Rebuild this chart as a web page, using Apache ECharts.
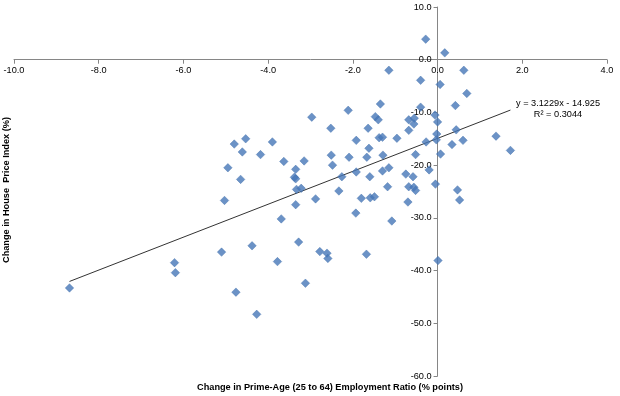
<!DOCTYPE html>
<html><head><meta charset="utf-8">
<script src="https://cdn.jsdelivr.net/npm/echarts@6/dist/echarts.min.js"></script>
<style>html,body{margin:0;padding:0;background:#fff}#c{width:620px;height:396px}</style>
</head><body><div id="c"></div>
<script>
// Change in prime-age employment ratio (% points)
const empChange = [
 -8.69,-6.21,-6.19,-5.10,-4.95,-5.03,-2.97,-2.52,-4.80,-4.53,
 -3.90,-4.61,-4.18,-3.63,-3.15,-2.51,-2.48,-3.35,-4.65,-3.38,
 -3.35,-3.33,-3.22,-2.88,-2.33,-3.35,-3.69,-4.38,-3.28,-2.78,
 -2.61,-2.59,-3.78,-3.12,-4.76,-4.27,-0.28,0.17,-1.15,0.62,
 -0.40,0.06,0.69,0.42,-0.40,-0.06,0.00,0.44,-0.02,-0.27,
 -0.03,0.34,0.60,1.38,1.72,0.07,-0.20,-0.05,0.47,0.52,
 -0.68,-0.55,-0.56,-0.52,-0.75,-0.58,-0.68,-0.56,-0.52,-0.70,
 -2.11,-1.35,-1.47,-1.40,-1.64,-1.92,-1.38,-1.30,-0.96,-0.68,
 -1.62,-1.67,-2.09,-1.29,-1.15,-1.30,-1.92,-2.26,-1.60,-1.18,
 -1.80,-1.59,-1.49,-1.93,-1.08,-1.68,0.01
];
// Change in house price index (%)
const hpiChange = [
 -43.3,-38.5,-40.4,-36.5,-20.5,-26.7,-10.9,-13.0,-16.0,-15.0,
 -15.6,-17.5,-18.0,-19.3,-19.2,-18.1,-20.0,-20.8,-22.7,-22.3,
 -22.6,-24.6,-24.4,-26.4,-24.9,-27.5,-30.2,-35.3,-34.6,-36.4,
 -36.7,-37.7,-38.3,-42.4,-44.1,-48.3,3.9,1.3,-2.0,-2.0,
 -3.9,-4.7,-6.4,-8.7,-9.0,-10.5,-11.8,-13.3,-14.1,-15.6,
 -15.2,-16.1,-15.3,-14.5,-17.2,-17.9,-20.9,-23.6,-24.7,-26.6,
 -11.4,-11.1,-12.2,-18.0,-21.7,-22.2,-24.1,-24.2,-24.8,-27.0,
 -9.6,-8.4,-10.8,-11.4,-13.0,-15.3,-14.8,-14.7,-14.9,-13.4,
 -16.8,-18.5,-18.5,-18.1,-20.5,-21.1,-21.3,-22.2,-22.2,-24.1,
 -26.3,-26.2,-26.0,-29.1,-30.6,-36.9,-38.1
];
const trendSlope = 3.1229;
const trendIntercept = -14.925;
const rSquared = 0.3044;
const xTicks = {min: -10, max: 4, step: 2};
const yTicks = {min: -60, max: 10, step: 10};
const xTitle = 'Change in Prime-Age (25 to 64) Employment Ratio (% points)';
const yTitle = 'Change in House  Price Index (%)';

const pts = empChange.map((x, i) => [x, hpiChange[i]]);
const xmin = Math.min(...empChange), xmax = Math.max(...empChange);
const trend = [[xmin, trendSlope * xmin + trendIntercept], [xmax, trendSlope * xmax + trendIntercept]];
const FONT = '"Liberation Sans", Arial, sans-serif';
const FS = 9.2;

function axisOpt(t, offset) {
  return {
    type: 'value', min: t.min, max: t.max, interval: t.step, offset: offset,
    splitLine: {show: false},
    axisLine: {show: true, onZero: false, lineStyle: {color: '#868686', width: 1}},
    axisTick: {show: true, length: 4, lineStyle: {color: '#868686'}},
    axisLabel: {margin: 6, fontFamily: FONT, fontSize: FS, color: '#000',
      formatter: v => v.toFixed(1), showMinLabel: true, showMaxLabel: true, hideOverlap: false}
  };
}

const chart = echarts.init(document.getElementById('c'), null, {renderer: 'canvas'});
const base = {
  animation: false,
  backgroundColor: '#fff',
  grid: {left: 14, right: 13, top: 7, bottom: 20, containLabel: false, outerBoundsMode: 'none'},
  xAxis: axisOpt(xTicks, 0),
  yAxis: axisOpt(yTicks, 0),
  series: [
    {type: 'line', data: trend, symbol: 'none', z: 1, silent: true,
     lineStyle: {color: '#333333', width: 1}},
    {type: 'scatter', data: pts, symbol: 'diamond', symbolSize: 8.5, z: 2,
     itemStyle: {color: '#4677b8', borderColor: '#3e6dab', borderWidth: 0.5}}
  ],
  graphic: [
    {type: 'text', x: 330, y: 383, style: {text: xTitle, font: 'bold ' + FS + 'px ' + FONT, fill: '#000', align: 'center'}},
    {type: 'text', x: 2, y: 190, rotation: Math.PI / 2,
     style: {text: yTitle, font: 'bold ' + FS + 'px ' + FONT, fill: '#000', align: 'center', verticalAlign: 'top'}},
    {type: 'text', x: 558, y: 99, style: {text: 'y = ' + trendSlope + 'x - ' + Math.abs(trendIntercept).toFixed(3), font: FS + 'px ' + FONT, fill: '#000', align: 'center'}},
    {type: 'text', x: 558, y: 110, style: {text: 'R² = ' + rSquared.toFixed(4), font: FS + 'px ' + FONT, fill: '#000', align: 'center'}}
  ]
};
chart.setOption(base);
// move each axis to the other axis's zero, using the library's own scales
const rect = chart.getModel().getComponent('grid', 0).coordinateSystem.getRect();
const zero = chart.convertToPixel({gridIndex: 0}, [0, 0]);
chart.setOption({
  xAxis: {offset: -(rect.y + rect.height - zero[1])},
  yAxis: {offset: -(zero[0] - rect.x)}
});
</script></body></html>
